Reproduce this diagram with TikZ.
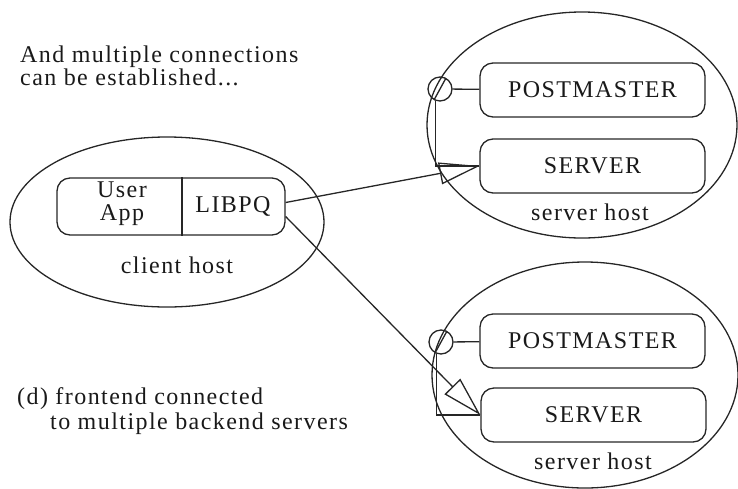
\documentclass[tikz,border=0pt]{standalone}
\usepackage{fontspec}
\setmainfont{Liberation Serif}
\newfontfamily\dfont[LetterSpace=6]{Liberation Serif}
\usetikzlibrary{arrows.meta,calc,shapes.geometric}
\begin{document}
\begin{tikzpicture}[x=1pt,y=-1pt,
  ln/.style={line width=1.3pt, draw=black!85},
  txt/.style={font=\dfont\fontsize{24pt}{23pt}\selectfont, inner sep=0pt, text=black!90},
  hostshape/.style={ln, ellipse, inner sep=0pt},
  rbox/.style={ln, rectangle, rounded corners=13pt, inner sep=0pt, minimum width=225pt, minimum height=54pt, txt},
  port/.style={ln, circle, inner sep=0pt, minimum size=24pt},
  conn/.style={ln, -{Triangle[open, length=40pt, width=22pt, line width=1.3pt]}}]
\useasboundingbox (0,0) rectangle (738,488);
% host ellipses
\node[hostshape, minimum width=314pt, minimum height=170pt] (client) at (167,222) {};
\node[hostshape, minimum width=310pt, minimum height=226pt] (host1) at (582,125) {};
\node[hostshape, minimum width=306pt, minimum height=226pt] (host2) at (585,375) {};
% free texts
\node[txt, anchor=base west] (t1) at (20,62) {And multiple connections};
\node[txt, anchor=base west] (t2) at (20,85) {can be established...};
\node[txt, anchor=base west] (t3) at (17,404) {(d) frontend connected};
\node[txt, anchor=base west] (t4) at (50,429) {to multiple backend servers};
% client
\node[ln, rectangle, rounded corners=13pt, inner sep=0pt, minimum width=228pt, minimum height=57pt] (cbox) at (171,206.5) {};
\draw[ln] (cbox.north west -| 182,0) -- (cbox.south west -| 182,0);
\node[txt, anchor=base] (user) at (122,197) {User};
\node[txt, anchor=base] (app) at (122,220) {App};
\node[txt, anchor=base] (libpq) at (233,212) {LIBPQ};
\node[txt, anchor=base] (chost) at (177,273) {client host};
% server host 1
\node[rbox] (pm1) at (592.5,90) {POSTMASTER};
\node[rbox] (srv1) at (592.5,166) {SERVER};
\node[txt, anchor=base] (sh1) at (590,220) {server host};
\node[port] (k1) at (440,89) {};
\draw[ln] ($(k1)+(-6,11)$) -- ($(k1)+(6,-11)$);
\draw[ln] (k1) -- (pm1);
\draw[ln] (k1.250) |- (srv1.west);
% server host 2
\node[rbox] (pm2) at (592.5,341) {POSTMASTER};
\node[rbox] (srv2) at (593.5,415) {SERVER};
\node[txt, anchor=base] (sh2) at (593,469) {server host};
\node[port] (k2) at (441,342) {};
\draw[ln] ($(k2)+(-6,11)$) -- ($(k2)+(6,-11)$);
\draw[ln] (k2) -- (pm2);
\draw[ln] (k2.250) |- (srv2.west);
% connections
\draw[conn] (cbox.2) -- (srv1.west);
\draw[conn] (cbox.-5) -- (srv2.west);
\end{tikzpicture}
\end{document}
